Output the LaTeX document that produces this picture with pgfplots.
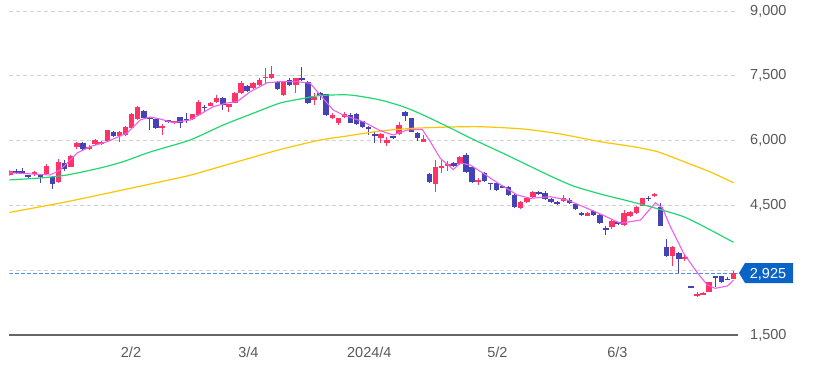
\documentclass[border=0pt]{standalone}
\usepackage{pgfplots}
\pgfplotsset{compat=1.18}
\usepackage{pgfplotstable}
\usepackage{fontspec}
\setmainfont{Liberation Sans}
\definecolor{upred}{HTML}{FF3366}
\definecolor{dnblue}{HTML}{4343B5}
\definecolor{maf}{HTML}{EE5FEE}
\definecolor{mat}{HTML}{22D672}
\definecolor{mas}{HTML}{FFC400}
\definecolor{gridc}{HTML}{D2D2D2}
\definecolor{lblc}{HTML}{595959}
\definecolor{pricebox}{HTML}{0A64C8}
\definecolor{priceline}{HTML}{4A90E2}

% up candles: index open high low close
\pgfplotstableread{
i o h l c
0 5204 5319 5181 5296
4 5239 5303 5181 5273
6 5227 5451 5204 5412
8 5049 5567 5026 5505
10 5396 5674 5389 5651
11 5845 5968 5817 5951
13 5813 5898 5783 5859
14 5921 6037 5898 6014
15 5914 6002 5898 5975
16 5998 6246 5991 6239
18 6114 6222 5975 6206
19 6123 6327 6107 6308
20 6299 6639 6292 6616
21 6493 6808 6477 6771
25 6308 6377 6130 6331
27 6401 6454 6384 6447
30 6493 6627 6477 6609
31 6593 6940 6570 6901
33 6808 6894 6790 6877
34 6887 7063 6871 6993
36 6771 6859 6669 6840
37 6877 7114 6864 7095
38 7095 7380 7079 7340
40 7211 7368 7195 7327
41 7287 7438 7264 7403
42 7456 7674 7327 7472
43 7442 7727 7419 7535
45 7056 7380 7033 7364
47 7287 7461 7102 7442
50 6940 7095 6824 7002
53 6516 6639 6500 6593
54 6401 6535 6373 6516
55 6540 6662 6523 6616
61 6067 6165 5938 6146
62 5951 6077 5882 6014
64 6153 6438 6130 6361
68 5975 6130 5968 6030
70 4995 5551 4817 5382
71 5382 5551 5243 5405
72 5435 5528 5297 5458
74 5451 5655 5435 5628
77 5058 5141 4972 5081
84 4433 4602 4417 4586
85 4572 4694 4555 4678
86 4687 4845 4671 4817
91 4595 4741 4579 4664
95 4262 4336 4248 4324
99 4007 4174 3965 4146
101 4046 4394 4023 4317
102 4255 4371 4232 4354
103 4317 4486 4301 4470
104 4493 4671 4475 4664
106 4734 4787 4694 4748
109 3329 3560 3097 3544
111 3282 3352 3220 3305
113 2414 2502 2372 2437
114 2433 2495 2426 2479
115 2502 2738 2484 2720
119 2789 2982 2785 2925
}\upcandles

% down candles: index open high low close
\pgfplotstableread{
i o h l c
1 5303 5336 5227 5243
2 5296 5373 5227 5273
3 5204 5215 5111 5158
5 5204 5227 5019 5169
7 5158 5181 4880 4997
9 5488 5551 5303 5343
12 5951 5968 5783 5806
17 6206 6222 6084 6107
22 6685 6709 6523 6535
23 6523 6540 6246 6507
24 6493 6507 6269 6285
26 6470 6484 6408 6424
28 6540 6553 6285 6401
29 6500 6632 6401 6484
32 6778 6824 6669 6762
35 6993 7010 6709 6824
39 7264 7287 7125 7148
44 7364 7391 7172 7188
46 7403 7438 7253 7287
48 7442 7711 7391 7403
49 7364 7391 6847 6864
51 7095 7114 6940 7056
52 7072 7090 6581 6593
56 6593 6639 6408 6415
57 6616 6639 6361 6377
58 6454 6465 6285 6322
59 6322 6338 6130 6269
60 6137 6206 5938 6123
63 6107 6118 6030 6077
65 6669 6692 6461 6570
66 6516 6535 6188 6206
67 6183 6199 5998 6053
69 5227 5239 5030 5049
73 5488 5516 5389 5412
75 5667 5720 5257 5280
76 5382 5401 5030 5049
78 5243 5262 5053 5072
79 5019 5030 4857 5002
80 5012 5030 4845 4857
81 4956 4984 4903 4919
82 4933 4949 4718 4741
83 4741 4764 4451 4470
87 4817 4829 4741 4757
88 4780 4826 4625 4641
89 4641 4660 4567 4586
90 4562 4602 4509 4549
92 4625 4671 4533 4555
93 4525 4544 4393 4410
94 4317 4347 4255 4289
96 4364 4405 4266 4278
97 4278 4301 4069 4086
98 3970 4023 3815 3954
100 4109 4127 4058 4069
105 4671 4718 4613 4655
107 4470 4549 4012 4023
108 3537 3715 3317 3329
110 3391 3410 2942 3259
112 2627 2634 2604 2611
116 2866 2877 2611 2812
117 2866 2877 2715 2734
118 2796 2849 2775 2780
}\downcandles

\begin{document}
\begin{tikzpicture}
\begin{axis}[
  at={(0,0)}, anchor=south west,
  scale only axis, width=728pt, height=335pt,
  xmin=-0.082, xmax=119.65, ymin=1500, ymax=9255,
  axis x line*=bottom, axis y line*=right,
  y axis line style={draw=none},
  x axis line style={-, draw=black!60, line width=1.3pt},
  xtick={19.9,39.2,59.1,80.15,99.9},
  xticklabels={2/2,3/4,2024/4,5/2,6/3},
  ytick={1500,3000,4500,6000,7500,9000},
  yticklabels={{1,500},{},{4,500},{6,000},{7,500},{9,000}},
  major tick length=0pt,
  tick style={draw=none},
  ymajorgrids,
  grid style={gridc, dash pattern=on 4pt off 3pt, line width=0.8pt},
  ticklabel style={font=\fontsize{14.5}{17}\selectfont, text=lblc, inner sep=0pt},
  yticklabel style={anchor=west, xshift=12.5pt},
  xticklabel style={anchor=north, yshift=-11.5pt},
]
% last price line
\addplot[priceline, dash pattern=on 4pt off 2pt, line width=1pt, forget plot]
  coordinates {(-0.1,2925) (119.65,2925)};

% wicks
\addplot[draw=none, mark=none, forget plot,
  error bars/.cd, y dir=both, y explicit, error mark=none,
  error bar style={draw=upred, solid, line width=1pt}]
  table[x=i, y expr={(\thisrow{h}+\thisrow{l})/2}, y error expr={(\thisrow{h}-\thisrow{l})/2}] {\upcandles};
\addplot[draw=none, mark=none, forget plot,
  error bars/.cd, y dir=both, y explicit, error mark=none,
  error bar style={draw=dnblue, solid, line width=1pt}]
  table[x=i, y expr={(\thisrow{h}+\thisrow{l})/2}, y error expr={(\thisrow{h}-\thisrow{l})/2}] {\downcandles};
% bodies
\addplot[draw=none, mark=none, forget plot,
  error bars/.cd, y dir=both, y explicit, error mark=none,
  error bar style={draw=upred, solid, line width=5.5pt}]
  table[x=i, y expr={(\thisrow{o}+\thisrow{c})/2}, y error expr={max(abs(\thisrow{c}-\thisrow{o})/2,14)}] {\upcandles};
\addplot[draw=none, mark=none, forget plot,
  error bars/.cd, y dir=both, y explicit, error mark=none,
  error bar style={draw=dnblue, solid, line width=5.5pt}]
  table[x=i, y expr={(\thisrow{o}+\thisrow{c})/2}, y error expr={max(abs(\thisrow{c}-\thisrow{o})/2,14)}] {\downcandles};

% 75-day MA
\addplot[mas, line width=1.2pt, smooth, tension=0.4, forget plot] coordinates {
(-0.33,4331) (9.38,4586) (19.26,4880) (29.13,5181) (32.42,5310) (39.5,5597)
(44.44,5794) (51.02,6014) (55.46,6107) (60.9,6222) (66.3,6285) (72.4,6315)
(77.35,6322) (84.4,6269) (90.5,6153) (97.1,5975) (102.5,5859) (106.5,5743)
(111.4,5482) (115.2,5273) (119.0,5025)};
% 25-day MA
\addplot[mat, line width=1.2pt, smooth, tension=0.4, forget plot] coordinates {
(-0.33,5088) (4.94,5134) (9.38,5204) (14.81,5366) (18.6,5512) (23.04,5736)
(29.62,6014) (35.06,6361) (40.65,6669) (44.44,6871) (47.73,6963) (51.02,7044)
(55.96,7056) (60.9,6940) (64.68,6785) (67.97,6593) (72.42,6292) (75.71,6060)
(80.65,5736) (84.43,5482) (88.87,5181) (92.66,4949) (97.1,4764) (100.4,4648)
(105.3,4470) (110.8,4238) (115.2,3931) (119.0,3646)};
% 5-day MA
\addplot[maf, line width=1.1pt, forget plot] coordinates {
(0,5257) (6.58,5204) (8.23,5320) (11.03,5713) (13.17,5859) (15.96,5975)
(19.26,6176) (21.4,6477) (23.04,6547) (24.69,6500) (26.83,6415) (29.62,6477)
(33.41,6785) (35.7,6871) (37.36,6901) (39.5,7132) (42.3,7340) (44.44,7364)
(47.23,7364) (49.37,7327) (51.02,7056) (53.16,6709) (54.81,6593) (58.1,6438)
(60.9,6229) (63.04,6130) (65.34,6246) (67.8,6262) (69.13,5975) (70.77,5590)
(72.9,5330) (74.06,5482) (75.71,5435) (77.85,5243) (80.3,5012) (83.44,4741)
(85.58,4664) (88.87,4701) (91.67,4625) (94.3,4470) (97.1,4301) (100.4,4086)
(103.69,4162) (106.16,4562) (107.3,4440) (108.62,4007) (110.77,3398)
(113.07,2935) (114.7,2657) (116.0,2581) (117.98,2634) (119.0,2770)};
\end{axis}
% last-price tag
\fill[pricebox] (729.5pt,62pt) -- (735.5pt,72pt) -- (783.5pt,72pt) -- (783.5pt,52pt) -- (735.5pt,52pt) -- cycle;
\node[text=white, font=\fontsize{14.5}{17}\selectfont, inner sep=0pt, anchor=base] at (758.5pt,56.8pt) {2,925};
\pgfresetboundingbox
\path[use as bounding box] (-9.5pt,-41pt) rectangle (813.5pt,335pt);
\end{tikzpicture}
\end{document}
